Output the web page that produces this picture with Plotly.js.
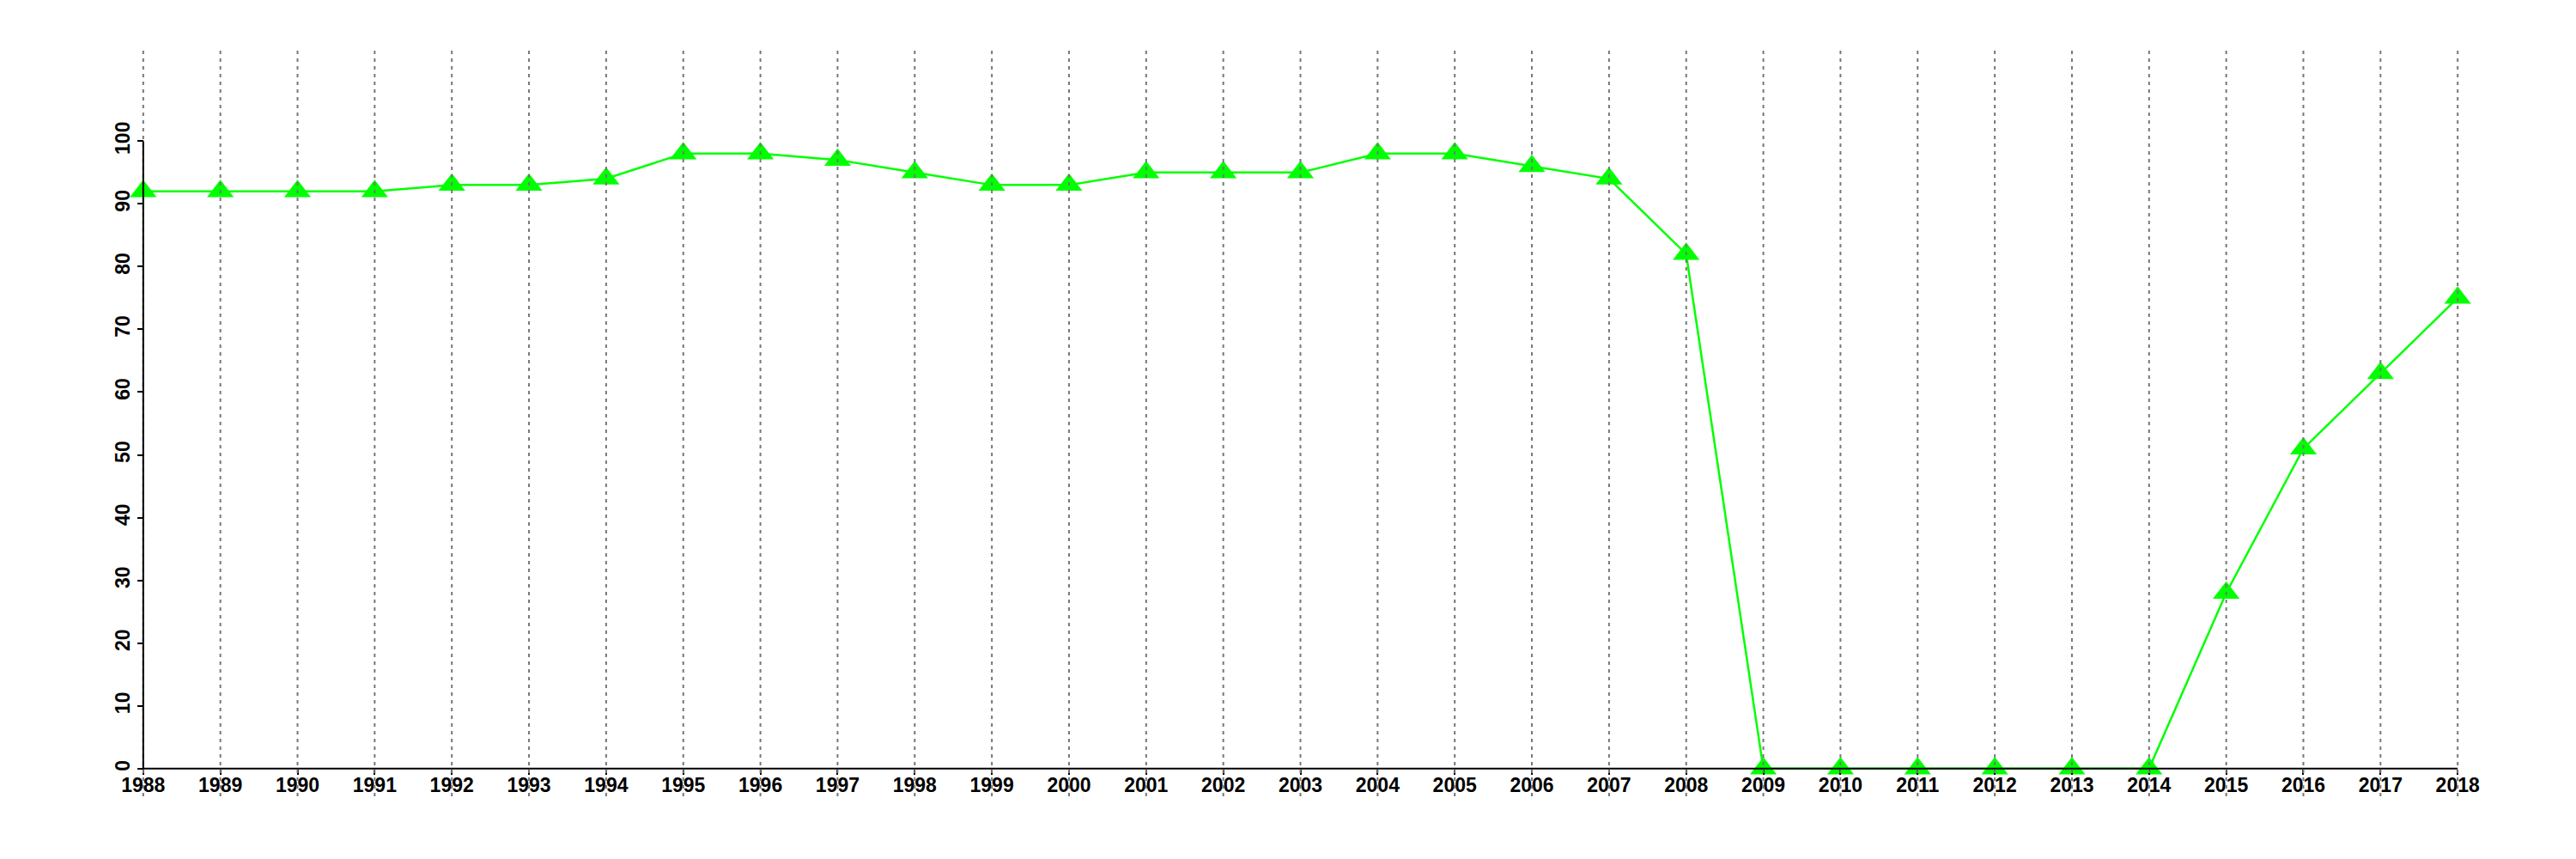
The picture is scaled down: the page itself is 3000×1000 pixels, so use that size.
<!DOCTYPE html>
<html>
<head>
<meta charset="utf-8">
<script src="https://cdn.plot.ly/plotly-3.0.1.min.js"></script>
<style>html,body{margin:0;padding:0;background:#fff;}#chart{width:3000px;height:1000px;}</style>
</head>
<body>
<div id="chart"></div>
<script>
var years = [1988,1989,1990,1991,1992,1993,1994,1995,1996,1997,1998,1999,2000,2001,2002,2003,2004,2005,2006,2007,2008,2009,2010,2011,2012,2013,2014,2015,2016,2017,2018];
var values = [92,92,92,92,93,93,94,98,98,97,95,93,93,95,95,95,98,98,96,94,82,0,0,0,0,0,0,28,51,63,75];
var xTickLabels = years.map(String);
var yTickVals = [0,10,20,30,40,50,60,70,80,90,100];
var yTickLabels = yTickVals.map(String);

var xMin = years[0], xMax = years[years.length-1];
var xPad = (xMax - xMin) * 0.04;
var xRange = [xMin - xPad, xMax + xPad];
var yLo = 0, yHi = 110;
var yPad = (yHi - yLo) * 0.04;
var yRange = [yLo - yPad, yHi + yPad];

var shapes = [];
years.forEach(function(yr){
  shapes.push({type:'line', layer:'above', xref:'x', yref:'paper', x0:yr, x1:yr, y0:0, y1:1,
    line:{color:'#777777', width:2, dash:'4px,5px'}});
});
shapes.push({type:'line', layer:'above', xref:'x', yref:'y', x0:xMin, x1:xMax, y0:0, y1:0, line:{color:'#000', width:2}});
shapes.push({type:'line', layer:'above', xref:'x', yref:'y', x0:xMin, x1:xMin, y0:yTickVals[0], y1:yTickVals[yTickVals.length-1], line:{color:'#000', width:2}});

var tickFont = {family:'"Liberation Sans", Arial, sans-serif', size:23, color:'#000', weight:'bold'};

var trace = {
  x: years, y: values, type:'scatter', mode:'lines+markers',
  line:{color:'#00FF00', width:2.5},
  marker:{symbol:'triangle-up', size:27, color:'#00FF00'},
  cliponaxis:false, showlegend:false
};

var layout = {
  width:3000, height:1000,
  margin:{l:59, r:30, t:59, b:73, pad:0},
  paper_bgcolor:'#fff', plot_bgcolor:'#fff',
  showlegend:false,
  xaxis:{range:xRange, showgrid:false, zeroline:false, showline:false,
    anchor:'free', position:(0 - yRange[0])/(yRange[1]-yRange[0]),
    tickmode:'array', tickvals:years, ticktext:xTickLabels,
    ticks:'outside', ticklen:6, tickwidth:2, tickcolor:'#000',
    ticklabelstandoff:-7,
    tickfont:tickFont, tickangle:0},
  yaxis:{range:yRange, showgrid:false, zeroline:false, showline:false,
    anchor:'free', position:(xMin - xRange[0])/(xRange[1]-xRange[0]),
    tickmode:'array', tickvals:yTickVals, ticktext:yTickLabels,
    ticks:'outside', ticklen:7, tickwidth:2, tickcolor:'#000',
    tickfont:tickFont, tickangle:-90},
  shapes:shapes
};

Plotly.newPlot('chart', [trace], layout, {staticPlot:true, displayModeBar:false});
</script>
</body>
</html>
